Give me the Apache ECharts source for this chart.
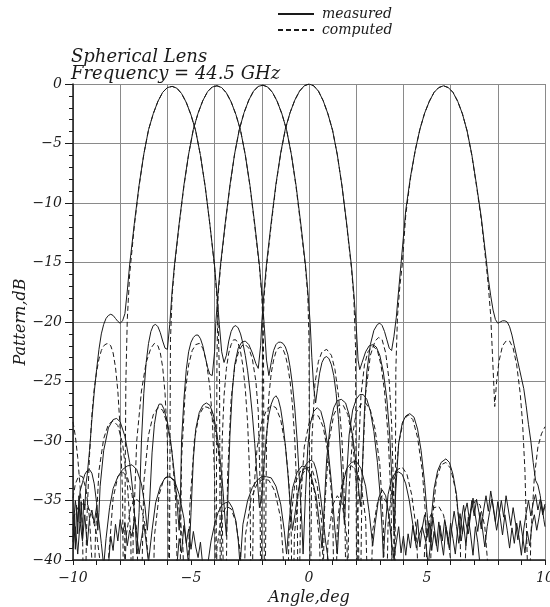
<!DOCTYPE html>
<html><head><meta charset="utf-8">
<script src="https://cdn.jsdelivr.net/npm/echarts@6/dist/echarts.min.js"></script>
<style>html,body{margin:0;padding:0;background:#fff}#c{width:550px;height:607px}</style>
</head><body><div id="c"></div>
<script>
// Axis ranges / tick labels
const xRange = [-10, 10];
const yRange = [-40, 0];
const xLabelValues = [-10, -5, 0, 5, 10];
const legendNames = ['measured', 'computed'];
const titleLines = ['Spherical Lens', 'Frequency = 44.5 GHz'];

// Beam A (peak ~ -5.8 deg)
const beamA_measured = [[-10,-38.5],[-9.95,-36.2],[-9.9,-39.1],[-9.85,-35.4],[-9.8,-37.8],[-9.75,-34.6],[-9.7,-36.9],[-9.65,-35.1],[-9.6,-38.2],[-9.55,-34.9],[-9.5,-35.8],[-9.45,-33.6],[-9.4,-32.9],[-9.3,-30.8],[-9.2,-28.2],[-9.1,-25.9],[-9.0,-24.0],[-8.9,-22.3],[-8.8,-21.0],[-8.7,-20.2],[-8.6,-19.7],[-8.5,-19.45],[-8.4,-19.35],[-8.3,-19.45],[-8.2,-19.7],[-8.1,-19.95],[-8.0,-20.1],[-7.9,-19.9],[-7.8,-19.3],[-7.7,-17.4],[-7.6,-15.2],[-7.4,-11.7],[-7.2,-8.5],[-7.0,-5.9],[-6.8,-3.85],[-6.6,-2.5],[-6.4,-1.45],[-6.2,-0.7],[-6.0,-0.3],[-5.8,-0.2],[-5.6,-0.35],[-5.4,-0.8],[-5.2,-1.55],[-5.0,-2.6],[-4.8,-3.95],[-4.6,-6.0],[-4.4,-8.6],[-4.2,-11.8],[-4.0,-15.3],[-3.9,-17.6],[-3.8,-20.2],[-3.7,-22.5],[-3.6,-23.4],[-3.5,-22.8],[-3.4,-21.6],[-3.3,-20.8],[-3.2,-20.4],[-3.1,-20.3],[-3.0,-20.5],[-2.9,-21.0],[-2.8,-21.8],[-2.7,-22.8],[-2.6,-24.1],[-2.5,-25.8],[-2.4,-27.8],[-2.3,-30.2],[-2.2,-33.0],[-2.1,-35.6],[-2.0,-34.6],[-1.9,-31.8],[-1.8,-29.4],[-1.7,-27.8],[-1.6,-26.9],[-1.5,-26.4],[-1.4,-26.2],[-1.3,-26.5],[-1.2,-27.3],[-1.1,-28.6],[-1.0,-30.4],[-0.9,-32.6],[-0.8,-35.2],[-0.7,-37.5],[-0.6,-36.2],[-0.5,-34.8],[-0.4,-33.6],[-0.3,-32.8],[-0.2,-32.2],[-0.1,-31.9],[0.0,-31.7],[0.1,-31.6],[0.2,-31.8],[0.3,-32.4],[0.4,-33.4],[0.5,-34.8],[0.6,-36.6],[0.7,-38.4],[0.8,-39.8],[0.9,-41.0]];
const beamA_computed = [[-10,-28.4],[-9.9,-29.6],[-9.8,-31.4],[-9.7,-33.8],[-9.6,-37.2],[-9.52,-48],[-9.42,-37.0],[-9.3,-31.2],[-9.2,-27.8],[-9.1,-25.6],[-9.0,-24.2],[-8.9,-23.1],[-8.8,-22.4],[-8.7,-22.0],[-8.6,-21.85],[-8.5,-21.8],[-8.4,-22.0],[-8.3,-22.6],[-8.2,-23.8],[-8.1,-25.8],[-8.0,-29.0],[-7.9,-34.5],[-7.84,-48],[-7.76,-25.0],[-7.7,-19.8],[-7.6,-16.0],[-7.4,-11.9],[-7.2,-8.6],[-7.0,-5.9],[-6.8,-3.85],[-6.6,-2.5],[-6.4,-1.45],[-6.2,-0.7],[-6.0,-0.3],[-5.8,-0.2],[-5.6,-0.35],[-5.4,-0.8],[-5.2,-1.55],[-5.0,-2.6],[-4.8,-3.95],[-4.6,-6.0],[-4.4,-8.6],[-4.2,-11.8],[-4.0,-15.4],[-3.9,-18.0],[-3.84,-20.8],[-3.79,-25.0],[-3.75,-48],[-3.68,-30.0],[-3.6,-26.2],[-3.5,-23.9],[-3.4,-22.6],[-3.3,-21.9],[-3.2,-21.5],[-3.1,-21.5],[-3.0,-21.8],[-2.9,-22.5],[-2.8,-23.7],[-2.7,-25.6],[-2.6,-28.5],[-2.5,-33.5],[-2.44,-48],[-2.35,-34.5],[-2.2,-30.6],[-2.0,-28.4],[-1.8,-27.4],[-1.6,-27.0],[-1.4,-27.2],[-1.2,-28.2],[-1.0,-30.4],[-0.85,-33.5],[-0.75,-38.0],[-0.7,-48],[-0.62,-38.0],[-0.45,-34.2],[-0.25,-32.7],[-0.05,-32.2],[0.15,-32.5],[0.35,-33.8],[0.55,-37.0],[0.68,-48],[0.8,-38.5],[1.0,-35.4],[1.2,-34.6],[1.4,-35.2],[1.6,-38.0],[1.72,-48]];

// Beam B (peak ~ -3.9 deg)
const beamB_measured = [[-10,-37.5],[-9.9,-35.0],[-9.8,-36.8],[-9.7,-34.2],[-9.6,-33.5],[-9.5,-32.8],[-9.4,-32.5],[-9.3,-32.4],[-9.2,-32.7],[-9.1,-33.6],[-9.0,-35.2],[-8.95,-37.5],[-8.9,-36.0],[-8.85,-33.8],[-8.7,-30.8],[-8.5,-28.9],[-8.3,-28.2],[-8.15,-28.1],[-8.0,-28.4],[-7.8,-29.6],[-7.6,-31.8],[-7.45,-34.5],[-7.35,-37.5],[-7.3,-39.5],[-7.2,-36.0],[-7.1,-30.0],[-7.0,-26.0],[-6.9,-23.4],[-6.8,-21.8],[-6.7,-20.8],[-6.6,-20.3],[-6.5,-20.2],[-6.4,-20.4],[-6.3,-20.9],[-6.2,-21.6],[-6.1,-22.2],[-6.0,-22.3],[-5.9,-20.2],[-5.8,-17.4],[-5.7,-15.2],[-5.5,-11.7],[-5.3,-8.5],[-5.1,-5.9],[-4.9,-3.8],[-4.7,-2.45],[-4.5,-1.4],[-4.3,-0.65],[-4.1,-0.25],[-3.9,-0.15],[-3.7,-0.3],[-3.5,-0.75],[-3.3,-1.5],[-3.1,-2.55],[-2.9,-3.9],[-2.7,-5.95],[-2.5,-8.55],[-2.3,-11.75],[-2.1,-15.25],[-2.0,-17.5],[-1.9,-20.2],[-1.8,-23.2],[-1.7,-24.5],[-1.6,-23.4],[-1.5,-22.4],[-1.4,-21.9],[-1.3,-21.7],[-1.2,-21.7],[-1.1,-21.8],[-1.0,-22.1],[-0.9,-22.7],[-0.8,-23.8],[-0.7,-25.3],[-0.6,-27.3],[-0.5,-30.0],[-0.4,-33.5],[-0.3,-37.0],[-0.25,-39.5],[-0.15,-34.5],[-0.05,-30.5],[0.05,-28.6],[0.2,-27.5],[0.35,-27.2],[0.5,-27.5],[0.65,-28.6],[0.8,-30.5],[0.95,-33.5],[1.1,-37.5],[1.2,-39.5],[1.3,-36.0],[1.45,-33.5],[1.6,-32.3],[1.8,-31.8],[2.0,-31.7],[2.2,-32.3],[2.4,-33.8],[2.55,-36.0],[2.7,-38.8],[2.8,-37.0],[2.95,-34.8],[3.1,-34.1],[3.25,-34.6],[3.4,-36.5],[3.5,-38.6],[3.6,-39.8],[3.7,-38.5],[3.8,-37.2],[3.9,-39.4],[4.0,-38.0],[4.1,-39.6],[4.2,-37.8],[4.3,-39.0],[4.4,-37.1],[4.5,-38.4],[4.6,-36.6],[4.7,-38.9],[4.8,-37.3],[4.9,-36.2],[5.0,-38.1],[5.1,-36.9],[5.2,-39.2],[5.3,-37.6],[5.4,-38.8],[5.5,-36.8],[5.6,-38.3],[5.7,-39.6],[5.8,-37.2],[5.9,-38.7],[6.0,-36.9],[6.1,-38.2],[6.2,-39.5],[6.3,-37.4],[6.4,-36.1],[6.5,-37.8],[6.6,-36.0],[6.7,-35.2],[6.8,-36.7],[6.9,-35.0],[7.0,-36.3],[7.1,-34.9],[7.2,-36.0],[7.3,-37.4],[7.4,-35.8],[7.5,-34.6],[7.6,-35.9],[7.7,-34.2],[7.8,-35.4],[7.9,-36.8],[8.0,-35.1],[8.1,-36.4],[8.2,-37.9],[8.3,-36.2],[8.4,-37.5],[8.5,-39.0],[8.6,-37.3],[8.7,-38.6],[8.8,-36.9],[8.9,-38.1],[9.0,-39.6],[9.1,-37.4],[9.2,-36.1],[9.3,-35.0],[9.4,-36.3],[9.5,-35.2],[9.6,-34.5],[9.7,-35.8],[9.8,-34.9],[9.9,-36.0],[10.0,-35.3]];
const beamB_computed = [[-10,-34.8],[-9.9,-33.6],[-9.75,-32.9],[-9.6,-33.0],[-9.45,-34.0],[-9.3,-36.5],[-9.2,-40.0],[-9.15,-48],[-9.05,-38.0],[-8.9,-32.5],[-8.7,-29.8],[-8.5,-28.6],[-8.3,-28.3],[-8.1,-28.7],[-7.9,-30.2],[-7.7,-33.5],[-7.55,-38.0],[-7.5,-48],[-7.45,-38.0],[-7.3,-30.0],[-7.1,-25.8],[-6.9,-23.4],[-6.7,-22.2],[-6.55,-21.8],[-6.4,-22.0],[-6.3,-22.6],[-6.2,-23.8],[-6.1,-26.0],[-6.0,-30.0],[-5.93,-48],[-5.87,-21.5],[-5.8,-17.8],[-5.7,-15.4],[-5.5,-11.8],[-5.3,-8.6],[-5.1,-5.9],[-4.9,-3.8],[-4.7,-2.45],[-4.5,-1.4],[-4.3,-0.65],[-4.1,-0.25],[-3.9,-0.15],[-3.7,-0.3],[-3.5,-0.75],[-3.3,-1.5],[-3.1,-2.55],[-2.9,-3.9],[-2.7,-5.95],[-2.5,-8.6],[-2.3,-11.9],[-2.1,-15.4],[-2.0,-17.8],[-1.93,-21.5],[-1.88,-48],[-1.8,-30.0],[-1.7,-26.2],[-1.6,-24.3],[-1.5,-23.2],[-1.4,-22.5],[-1.3,-22.2],[-1.2,-22.1],[-1.1,-22.3],[-1.0,-22.8],[-0.9,-23.7],[-0.8,-25.0],[-0.7,-27.0],[-0.6,-30.0],[-0.5,-35.0],[-0.45,-48],[-0.35,-35.0],[-0.2,-30.5],[0.0,-28.5],[0.2,-27.8],[0.4,-27.9],[0.6,-28.8],[0.8,-31.0],[1.0,-35.5],[1.1,-48],[1.2,-37.0],[1.4,-33.5],[1.6,-32.4],[1.8,-32.1],[2.0,-32.4],[2.2,-33.6],[2.4,-36.5],[2.55,-48],[2.7,-37.5],[2.9,-35.2],[3.1,-34.6],[3.3,-35.2],[3.5,-38.0],[3.6,-48]];

// Beam C (peak ~ -1.95 deg)
const beamC_measured = [[-10,-39.0],[-9.9,-37.2],[-9.8,-39.5],[-9.7,-36.8],[-9.6,-38.4],[-9.5,-36.2],[-9.4,-38.8],[-9.3,-36.5],[-9.2,-35.8],[-9.1,-36.9],[-9.0,-35.5],[-8.9,-36.8],[-8.8,-38.6],[-8.7,-40.5],[-8.6,-38.2],[-8.45,-35.6],[-8.3,-34.0],[-8.1,-33.0],[-7.9,-32.4],[-7.7,-32.1],[-7.5,-32.0],[-7.3,-32.4],[-7.1,-33.6],[-6.95,-35.5],[-6.85,-37.5],[-6.75,-35.0],[-6.65,-31.0],[-6.55,-28.6],[-6.45,-27.4],[-6.35,-26.9],[-6.25,-26.9],[-6.15,-27.3],[-6.0,-28.4],[-5.85,-30.2],[-5.7,-32.8],[-5.6,-35.0],[-5.5,-37.5],[-5.45,-35.0],[-5.4,-30.0],[-5.3,-26.5],[-5.2,-24.0],[-5.1,-22.5],[-5.0,-21.7],[-4.9,-21.3],[-4.8,-21.1],[-4.7,-21.1],[-4.6,-21.4],[-4.5,-22.0],[-4.4,-22.9],[-4.3,-23.8],[-4.2,-24.4],[-4.1,-24.5],[-4.0,-22.5],[-3.95,-20.1],[-3.85,-17.4],[-3.75,-15.2],[-3.55,-11.7],[-3.35,-8.5],[-3.15,-5.85],[-2.95,-3.8],[-2.75,-2.4],[-2.55,-1.35],[-2.35,-0.6],[-2.15,-0.2],[-1.95,-0.1],[-1.75,-0.25],[-1.55,-0.7],[-1.35,-1.45],[-1.15,-2.5],[-0.95,-3.85],[-0.75,-5.9],[-0.55,-8.5],[-0.35,-11.7],[-0.15,-15.2],[-0.05,-17.4],[0.05,-20.1],[0.12,-23.0],[0.2,-25.5],[0.28,-26.8],[0.36,-25.6],[0.45,-24.3],[0.55,-23.4],[0.65,-23.0],[0.75,-22.9],[0.85,-23.1],[0.95,-23.6],[1.05,-24.5],[1.15,-26.0],[1.25,-28.2],[1.35,-31.5],[1.45,-35.0],[1.5,-37.0],[1.58,-33.5],[1.7,-29.5],[1.85,-27.4],[2.0,-26.5],[2.15,-26.1],[2.3,-26.1],[2.45,-26.5],[2.6,-27.5],[2.75,-29.2],[2.9,-31.8],[3.0,-34.2],[3.1,-37.5],[3.15,-39.8],[3.22,-37.5],[3.35,-34.5],[3.5,-33.2],[3.65,-32.7],[3.8,-32.6],[3.95,-32.8],[4.1,-33.6],[4.25,-35.0],[4.4,-37.0],[4.55,-39.0],[4.65,-38.0],[4.8,-37.2],[4.95,-38.5],[5.05,-40.5],[5.15,-38.6],[5.25,-36.4],[5.35,-37.9],[5.45,-39.3],[5.55,-37.1],[5.65,-38.4],[5.75,-36.6],[5.85,-37.7],[5.95,-39.0],[6.05,-37.3],[6.15,-35.9],[6.25,-37.2],[6.35,-38.6],[6.45,-36.8],[6.55,-35.4],[6.65,-36.9],[6.75,-37.8],[6.85,-36.1],[6.95,-34.8],[7.05,-36.3],[7.15,-37.6],[7.25,-36.0],[7.35,-37.4],[7.45,-38.9],[7.55,-37.2],[7.65,-36.0],[7.75,-34.9],[7.85,-36.2],[7.95,-37.5],[8.05,-36.3],[8.15,-35.0],[8.25,-36.4],[8.35,-34.6],[8.45,-35.8],[8.55,-37.1],[8.65,-35.6],[8.75,-36.9],[8.85,-38.3],[8.95,-36.7],[9.05,-38.0],[9.15,-39.4],[9.25,-37.6],[9.35,-38.8],[9.45,-37.0],[9.55,-36.2],[9.65,-37.5],[9.75,-36.4],[9.85,-35.1],[9.95,-36.6],[10.0,-37.2]];
const beamC_computed = [[-10,-36.5],[-9.8,-35.6],[-9.6,-35.3],[-9.4,-35.4],[-9.2,-36.2],[-9.0,-37.8],[-8.8,-41.0],[-8.65,-48],[-8.5,-40.0],[-8.3,-34.8],[-8.1,-33.0],[-7.9,-32.6],[-7.7,-33.0],[-7.5,-34.5],[-7.3,-37.5],[-7.15,-48],[-7.0,-33.5],[-6.8,-29.5],[-6.6,-27.8],[-6.4,-27.2],[-6.2,-27.4],[-6.0,-28.6],[-5.8,-31.0],[-5.65,-35.0],[-5.5,-48],[-5.4,-31.5],[-5.25,-26.0],[-5.1,-23.6],[-4.95,-22.4],[-4.8,-21.9],[-4.65,-21.8],[-4.5,-22.2],[-4.35,-23.3],[-4.2,-25.5],[-4.1,-28.0],[-4.0,-33.0],[-3.95,-48],[-3.9,-23.0],[-3.85,-17.8],[-3.75,-15.4],[-3.55,-11.8],[-3.35,-8.6],[-3.15,-5.85],[-2.95,-3.8],[-2.75,-2.4],[-2.55,-1.35],[-2.35,-0.6],[-2.15,-0.2],[-1.95,-0.1],[-1.75,-0.25],[-1.55,-0.7],[-1.35,-1.45],[-1.15,-2.5],[-0.95,-3.85],[-0.75,-5.9],[-0.55,-8.6],[-0.35,-11.9],[-0.15,-15.4],[-0.05,-17.8],[0.0,-21.5],[0.05,-48],[0.12,-30.0],[0.25,-25.2],[0.4,-23.3],[0.55,-22.5],[0.75,-22.3],[0.95,-22.8],[1.1,-24.0],[1.25,-26.2],[1.4,-30.0],[1.52,-36.0],[1.6,-48],[1.7,-34.0],[1.85,-29.5],[2.0,-27.6],[2.2,-26.9],[2.4,-26.8],[2.6,-27.4],[2.8,-29.0],[3.0,-32.0],[3.15,-37.0],[3.25,-48],[3.35,-37.0],[3.55,-33.5],[3.75,-32.4],[3.95,-32.2],[4.15,-32.8],[4.35,-34.5],[4.55,-37.5],[4.75,-48],[4.9,-39.0],[5.1,-36.5],[5.3,-35.6],[5.5,-35.5],[5.7,-36.2],[5.9,-38.2],[6.05,-41.0],[6.25,-48]];

// Beam D (peak ~ 0 deg)
const beamD_measured = [[-8.5,-40.5],[-8.4,-38.0],[-8.3,-39.2],[-8.2,-37.0],[-8.1,-38.4],[-8.0,-36.6],[-7.9,-37.8],[-7.8,-36.9],[-7.7,-38.8],[-7.6,-37.5],[-7.5,-38.0],[-7.4,-36.5],[-7.3,-37.8],[-7.2,-39.5],[-7.1,-38.2],[-7.0,-37.0],[-6.9,-38.5],[-6.8,-40.2],[-6.65,-37.5],[-6.5,-35.2],[-6.3,-33.8],[-6.1,-33.1],[-5.9,-33.0],[-5.7,-33.3],[-5.5,-34.5],[-5.3,-36.5],[-5.2,-38.5],[-5.1,-40.5],[-5.0,-36.0],[-4.9,-31.5],[-4.8,-29.0],[-4.65,-27.6],[-4.5,-27.0],[-4.35,-26.8],[-4.2,-27.0],[-4.05,-27.8],[-3.9,-29.4],[-3.75,-31.8],[-3.65,-34.0],[-3.55,-36.8],[-3.5,-38.0],[-3.45,-35.5],[-3.35,-29.5],[-3.25,-25.8],[-3.15,-23.6],[-3.0,-22.2],[-2.85,-21.7],[-2.7,-21.6],[-2.55,-21.9],[-2.4,-22.6],[-2.25,-23.5],[-2.15,-23.9],[-2.05,-22.0],[-2.0,-20.0],[-1.9,-17.3],[-1.8,-15.1],[-1.6,-11.6],[-1.4,-8.4],[-1.2,-5.8],[-1.0,-3.75],[-0.8,-2.4],[-0.6,-1.35],[-0.4,-0.6],[-0.2,-0.15],[0,0],[0.2,-0.15],[0.4,-0.6],[0.6,-1.4],[0.8,-2.5],[1.0,-3.9],[1.2,-5.95],[1.4,-8.6],[1.6,-11.8],[1.8,-15.3],[1.9,-17.6],[2.0,-20.3],[2.08,-23.2],[2.15,-24.0],[2.25,-23.4],[2.4,-22.5],[2.55,-22.0],[2.7,-21.9],[2.85,-22.1],[3.0,-22.8],[3.15,-24.2],[3.3,-26.5],[3.42,-29.5],[3.52,-33.5],[3.6,-37.5],[3.68,-34.0],[3.8,-30.2],[3.95,-28.5],[4.1,-27.9],[4.27,-27.7],[4.45,-28.0],[4.6,-29.0],[4.75,-30.8],[4.9,-33.5],[5.0,-36.0],[5.1,-38.5],[5.18,-36.5],[5.3,-34.0],[5.45,-32.5],[5.6,-31.8],[5.8,-31.5],[5.95,-31.8],[6.1,-32.8],[6.25,-34.5],[6.35,-36.8],[6.45,-38.4],[6.55,-37.0],[6.65,-38.8],[6.75,-36.4],[6.85,-37.9],[6.95,-39.6],[7.05,-37.2],[7.15,-38.5],[7.25,-40.5]];
const beamD_computed = [[-7.9,-48],[-7.75,-38.0],[-7.55,-35.5],[-7.35,-34.8],[-7.15,-35.2],[-6.95,-37.0],[-6.75,-41.0],[-6.65,-48],[-6.55,-38.0],[-6.35,-34.5],[-6.15,-33.2],[-5.95,-32.9],[-5.75,-33.3],[-5.55,-35.0],[-5.35,-38.5],[-5.2,-48],[-5.05,-35.5],[-4.85,-29.8],[-4.65,-27.8],[-4.45,-27.1],[-4.25,-27.2],[-4.05,-28.2],[-3.85,-30.6],[-3.7,-34.5],[-3.55,-48],[-3.45,-33.0],[-3.3,-26.5],[-3.15,-23.8],[-3.0,-22.6],[-2.85,-22.0],[-2.7,-21.9],[-2.55,-22.2],[-2.4,-23.1],[-2.25,-25.0],[-2.15,-27.5],[-2.08,-33.0],[-2.03,-48],[-1.97,-22.0],[-1.9,-17.8],[-1.8,-15.4],[-1.6,-11.8],[-1.4,-8.5],[-1.2,-5.85],[-1.0,-3.8],[-0.8,-2.4],[-0.6,-1.35],[-0.4,-0.6],[-0.2,-0.15],[0,0],[0.2,-0.15],[0.4,-0.6],[0.6,-1.4],[0.8,-2.5],[1.0,-3.9],[1.2,-5.95],[1.4,-8.6],[1.6,-11.9],[1.8,-15.5],[1.9,-18.0],[1.97,-22.0],[2.03,-48],[2.1,-31.0],[2.2,-26.2],[2.35,-23.6],[2.5,-22.5],[2.7,-22.0],[2.9,-22.4],[3.05,-23.6],[3.2,-25.8],[3.35,-29.5],[3.48,-35.0],[3.55,-48],[3.65,-34.0],[3.8,-30.2],[4.0,-28.3],[4.2,-27.8],[4.4,-28.2],[4.6,-29.7],[4.8,-32.5],[4.95,-36.5],[5.05,-48],[5.2,-37.0],[5.4,-33.2],[5.6,-32.0],[5.8,-31.8],[6.0,-32.3],[6.2,-34.0],[6.4,-37.5],[6.5,-48],[6.65,-38.5],[6.85,-35.8],[7.05,-35.0],[7.25,-35.4],[7.45,-37.2],[7.6,-41.0],[7.7,-48]];

// Beam E (peak ~ 5.7 deg)
const beamE_measured = [[-5.6,-40.5],[-5.5,-38.2],[-5.4,-39.4],[-5.3,-37.1],[-5.2,-38.6],[-5.1,-37.4],[-5.0,-39.1],[-4.9,-37.6],[-4.8,-38.9],[-4.7,-39.8],[-4.6,-38.5],[-4.5,-40.5],[-4.3,-40.5],[-4.15,-38.4],[-4.0,-37.0],[-3.85,-36.0],[-3.7,-35.4],[-3.55,-35.2],[-3.4,-35.1],[-3.25,-35.6],[-3.1,-36.7],[-3.0,-38.3],[-2.92,-40.5],[-2.8,-37.0],[-2.6,-35.0],[-2.4,-33.9],[-2.2,-33.3],[-2.0,-33.0],[-1.8,-33.0],[-1.6,-33.1],[-1.4,-33.8],[-1.2,-35.3],[-1.05,-37.5],[-0.95,-39.5],[-0.85,-37.0],[-0.7,-34.0],[-0.5,-32.6],[-0.3,-32.1],[-0.1,-32.2],[0.1,-33.0],[0.3,-34.6],[0.45,-37.0],[0.55,-39.0],[0.62,-36.5],[0.75,-31.5],[0.9,-28.6],[1.05,-27.2],[1.2,-26.6],[1.37,-26.5],[1.55,-26.8],[1.7,-27.8],[1.85,-29.6],[2.0,-32.0],[2.1,-34.0],[2.18,-35.5],[2.25,-33.0],[2.35,-27.5],[2.45,-24.2],[2.6,-21.9],[2.75,-20.7],[2.9,-20.2],[3.0,-20.1],[3.1,-20.3],[3.2,-20.8],[3.3,-21.5],[3.4,-22.2],[3.5,-22.4],[3.6,-21.2],[3.7,-19.6],[3.8,-17.3],[3.9,-15.1],[4.1,-10.6],[4.3,-7.8],[4.5,-5.6],[4.7,-3.8],[4.9,-2.45],[5.1,-1.45],[5.3,-0.7],[5.5,-0.3],[5.7,-0.15],[5.9,-0.3],[6.1,-0.7],[6.3,-1.45],[6.5,-2.5],[6.7,-3.95],[6.9,-5.95],[7.1,-8.5],[7.3,-11.2],[7.5,-14.6],[7.6,-16.4],[7.7,-17.8],[7.8,-19.0],[7.9,-19.8],[8.0,-20.1],[8.1,-20.0],[8.2,-19.9],[8.3,-19.9],[8.4,-20.0],[8.5,-20.4],[8.6,-21.1],[8.7,-22.0],[8.8,-22.9],[8.9,-23.8],[9.0,-24.7],[9.1,-25.6],[9.2,-27.0],[9.3,-28.6],[9.4,-30.0],[9.5,-31.8],[9.6,-33.3],[9.7,-33.7],[9.8,-34.6],[9.9,-36.2],[10.0,-35.5]];
const beamE_computed = [[-4.0,-48],[-3.9,-39.0],[-3.7,-36.2],[-3.5,-35.5],[-3.3,-35.7],[-3.1,-36.8],[-2.9,-39.5],[-2.8,-48],[-2.7,-38.0],[-2.45,-34.8],[-2.2,-33.6],[-1.95,-33.2],[-1.7,-33.3],[-1.45,-34.2],[-1.2,-36.5],[-1.05,-41.0],[-0.95,-48],[-0.85,-38.0],[-0.6,-33.6],[-0.35,-32.5],[-0.15,-32.3],[0.05,-32.8],[0.25,-34.4],[0.45,-38.5],[0.55,-48],[0.65,-36.0],[0.85,-30.0],[1.05,-27.8],[1.25,-27.0],[1.45,-27.0],[1.65,-27.8],[1.85,-30.0],[2.0,-33.5],[2.1,-38.0],[2.15,-48],[2.25,-33.0],[2.4,-26.0],[2.6,-22.8],[2.8,-21.6],[2.95,-21.3],[3.1,-21.5],[3.25,-22.6],[3.4,-25.0],[3.5,-28.5],[3.58,-34.0],[3.63,-48],[3.68,-24.0],[3.75,-19.5],[3.85,-17.0],[3.95,-15.2],[4.1,-11.0],[4.3,-7.9],[4.5,-5.6],[4.7,-3.8],[4.9,-2.45],[5.1,-1.45],[5.3,-0.7],[5.5,-0.3],[5.7,-0.15],[5.9,-0.3],[6.1,-0.7],[6.3,-1.45],[6.5,-2.5],[6.7,-3.95],[6.9,-6.0],[7.1,-8.6],[7.3,-11.4],[7.5,-15.0],[7.6,-17.0],[7.7,-19.5],[7.78,-23.0],[7.87,-27.1],[7.95,-25.0],[8.05,-23.3],[8.2,-22.0],[8.35,-21.6],[8.5,-21.6],[8.65,-22.2],[8.8,-23.6],[8.95,-26.0],[9.05,-28.5],[9.15,-32.5],[9.25,-40.0],[9.3,-48],[9.4,-38.0],[9.55,-33.0],[9.7,-30.5],[9.85,-29.4],[10.0,-28.8]];

const measuredSets = [beamA_measured, beamB_measured, beamC_measured, beamD_measured, beamE_measured];
const computedSets = [beamA_computed, beamB_computed, beamC_computed, beamD_computed, beamE_computed];

const FONT = 'DejaVu Serif';
const INK = '#1a1a1a';
const GRID = '#8a8a8a';
const fmt = v => (v < 0 ? '\u2212' : '') + Math.abs(v);

const series = [];
computedSets.forEach(d => series.push({
  name: legendNames[1], type: 'line', data: d, xAxisIndex: 0, yAxisIndex: 0,
  symbol: 'none', clip: true, silent: true,
  lineStyle: { color: INK, width: 1, type: [5, 3] }, itemStyle: { color: INK }
}));
measuredSets.forEach(d => series.push({
  name: legendNames[0], type: 'line', data: d, xAxisIndex: 0, yAxisIndex: 0,
  symbol: 'none', clip: true, silent: true,
  lineStyle: { color: INK, width: 1, type: 'solid' }, itemStyle: { color: INK }
}));

const chart = echarts.init(document.getElementById('c'), null, { renderer: 'canvas' });
chart.setOption({
  animation: false,
  backgroundColor: '#fff',
  title: {
    text: titleLines.join('\n'), left: 66, top: 44,
    textStyle: { fontFamily: FONT, fontStyle: 'italic', fontWeight: 'normal', fontSize: 18, lineHeight: 17, color: INK }
  },
  legend: {
    data: [
      { name: legendNames[0] },
      { name: legendNames[1] }
    ],
    orient: 'vertical', left: 272, top: 2, itemWidth: 36, itemHeight: 12, itemGap: 2,
    itemStyle: { opacity: 0 },
    textStyle: { fontFamily: FONT, fontStyle: 'italic', fontSize: 14, color: INK, padding: [0, 0, 0, 3] },
    selectedMode: false
  },
  grid: { left: 73, right: 5, top: 84, bottom: 47, containLabel: false, outerBoundsMode: 'none' },
  xAxis: [
    {
      type: 'value', min: xRange[0], max: xRange[1], interval: 1, position: 'bottom',
      name: 'Angle,deg', nameLocation: 'middle', nameGap: 30, nameMoveOverlap: false,
      nameTextStyle: { fontFamily: FONT, fontStyle: 'italic', fontSize: 16, color: INK },
      axisLine: { show: true, onZero: false, lineStyle: { color: INK, width: 1.5 } },
      axisTick: { show: true, length: 5, lineStyle: { color: INK, width: 1 } },
      axisLabel: {
        margin: 11, fontFamily: FONT, fontStyle: 'italic', fontSize: 14, color: INK,
        formatter: v => xLabelValues.includes(v) ? fmt(v) : ''
      },
      splitLine: { show: false }
    },
    {
      type: 'value', min: xRange[0], max: xRange[1], interval: 2, position: 'bottom',
      axisLine: { show: false }, axisTick: { show: false }, axisLabel: { show: false },
      splitLine: { show: true, lineStyle: { color: GRID, width: 1 } }
    }
  ],
  yAxis: {
    type: 'value', min: yRange[0], max: yRange[1], interval: 5,
    name: 'Pattern,dB', nameLocation: 'middle', nameGap: 44, nameMoveOverlap: false,
    nameTextStyle: { fontFamily: FONT, fontStyle: 'italic', fontSize: 16, color: INK },
    axisLine: { show: true, onZero: false, lineStyle: { color: INK, width: 1.5 } },
    axisTick: { show: true, length: 8, lineStyle: { color: INK, width: 1 } },
    minorTick: { show: true, splitNumber: 5, length: 4, lineStyle: { color: INK, width: 1 } },
    axisLabel: { margin: 11, fontFamily: FONT, fontStyle: 'italic', fontSize: 14, color: INK, formatter: fmt },
    splitLine: { show: true, lineStyle: { color: GRID, width: 1 } }
  },
  series: series
});
</script>
</body></html>
